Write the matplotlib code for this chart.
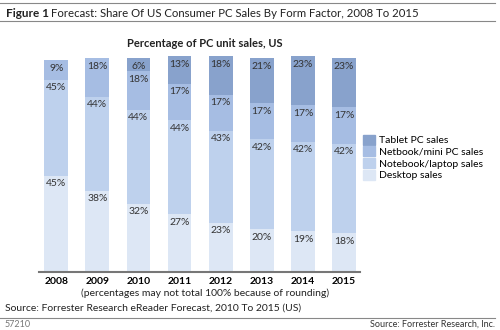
import matplotlib.pyplot as plt
from matplotlib.lines import Line2D
from matplotlib.patches import Patch

plt.rcParams['font.family'] = ['Lato', 'DejaVu Sans']

years = ['2008', '2009', '2010', '2011', '2012', '2013', '2014', '2015']
desktop = [45, 38, 32, 27, 23, 20, 19, 18]
notebook = [45, 44, 44, 44, 43, 42, 42, 42]
netbook = [9, 18, 18, 17, 17, 17, 17, 17]
tablet = [0, 0, 6, 13, 18, 21, 23, 23]

series = [('Desktop sales', desktop, '#dde7f5'),
          ('Notebook/laptop sales', notebook, '#bed1ed'),
          ('Netbook/mini PC sales', netbook, '#a6bde3'),
          ('Tablet PC sales', tablet, '#88a2cc')]

fig = plt.figure(figsize=(5, 3.3), dpi=100)
ax = fig.add_axes([0.078, 0.176, 0.642, 0.654])

x = range(len(years))
bottom = [0] * len(years)
for name, vals, col in series:
    ax.bar(x, vals, width=0.58, bottom=bottom, color=col, linewidth=0)
    for i, v in enumerate(vals):
        if v > 0:
            ax.annotate(f'{v}%', (i, bottom[i] + v), xytext=(0, -2.5),
                        textcoords='offset points', ha='center', va='top',
                        fontsize=7.5, color='#333333', annotation_clip=False)
    bottom = [b + v for b, v in zip(bottom, vals)]

ax.set_xlim(-0.42, 7.39)
ax.set_ylim(0, 101)
ax.set_yticks([])
ax.set_xticks(list(x))
ax.set_xticklabels(years, fontsize=7.5, fontweight='bold')
ax.tick_params(axis='x', length=0, pad=4)
for s in ['top', 'left', 'right']:
    ax.spines[s].set_visible(False)
ax.spines['bottom'].set_color('#777777')
ax.spines['bottom'].set_linewidth(1.5)

handles = [Patch(color=col, label=name) for name, vals, col in series[::-1]]
fig.legend(handles=handles, loc='upper left', bbox_to_anchor=(0.718, 0.605),
           frameon=False, fontsize=7.5, handlelength=1.1, handleheight=1.1,
           handletextpad=0.4, labelspacing=0.12, borderaxespad=0)

fig.text(0.41, 0.869, 'Percentage of PC unit sales, US', ha='center',
         va='center', fontsize=8, fontweight='bold', color='#222222')
fig.text(0.012, 0.96, 'Figure 1', ha='left', va='center', fontsize=8.5,
         fontweight='bold', color='#222222')
fig.text(0.102, 0.96, 'Forecast: Share Of US Consumer PC Sales By Form Factor, 2008 To 2015',
         ha='left', va='center', fontsize=8.2, color='#222222')
fig.text(0.41, 0.112, '(percentages may not total 100% because of rounding)',
         ha='center', va='center', fontsize=7.5, color='#222222')
fig.text(0.01, 0.067, 'Source: Forrester Research eReader Forecast, 2010 To 2015 (US)',
         ha='left', va='center', fontsize=7.5, color='#222222')
fig.text(0.01, 0.018, '57210', ha='left', va='center', fontsize=6.5, color='#777777')
fig.text(0.99, 0.018, 'Source: Forrester Research, Inc.', ha='right', va='center',
         fontsize=6.5, color='#333333')

for yy in [0.99, 0.936, 0.037]:
    fig.add_artist(Line2D([0, 0.99], [yy, yy], color='#888888', linewidth=0.8))

fig.savefig('out.png', dpi=100)
